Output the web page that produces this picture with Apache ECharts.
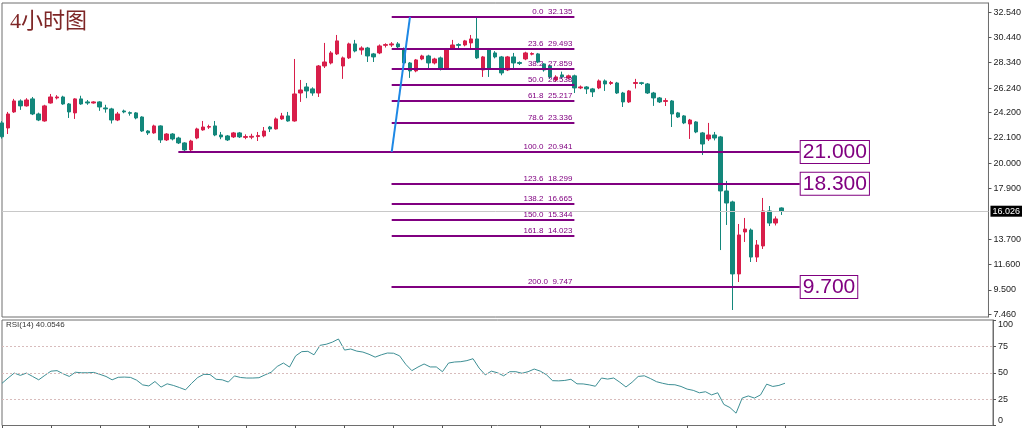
<!DOCTYPE html>
<html>
<head>
<meta charset="utf-8">
<script src="https://cdn.jsdelivr.net/npm/echarts@6/dist/echarts.min.js"></script>
<style>
html,body{margin:0;padding:0;background:#fff;}
#chart{width:1024px;height:428px;}
</style>
</head>
<body>
<div id="chart"></div>
<script>
// ---- data ----
const slotCount = 163; // visible bar slots on the time axis (last 34 empty)
const opens  = [23.35,22.93,24.26,25.17,24.76,25.34,24.09,23.51,25.00,25.42,25.50,24.92,24.18,25.34,25.09,25.00,25.09,24.59,24.51,23.59,24.34,24.20,24.18,23.84,22.68,22.52,23.10,21.94,22.43,22.10,21.69,21.11,22.10,22.77,23.00,23.10,22.35,22.27,22.19,22.52,22.15,22.17,22.22,22.27,23.01,22.85,23.68,23.93,23.51,25.83,26.33,26.17,25.83,28.07,28.32,29.07,28.07,28.74,29.90,29.40,29.56,29.07,29.15,29.78,29.81,29.90,29.48,28.32,27.66,28.65,28.90,28.32,28.74,27.82,29.48,29.84,29.81,29.98,30.31,27.74,29.48,29.15,28.82,27.74,28.82,28.36,28.65,29.05,29.07,28.24,28.07,26.91,27.33,27.08,27.25,26.25,26.33,26.17,26.25,26.83,26.62,26.66,25.83,25.09,26.62,26.68,26.58,25.83,25.42,25.13,25.17,24.18,23.93,23.26,23.43,22.52,22.02,22.35,22.19,17.71,16.80,10.83,14.31,14.47,12.23,13.15,16.05,15.05,16.30];
const closes = [22.20,24.09,25.17,24.76,25.25,24.09,23.59,24.76,25.50,25.50,24.92,24.26,25.34,24.92,25.00,25.09,24.67,24.51,23.59,24.09,24.26,24.15,23.76,22.68,22.52,23.10,21.94,22.43,22.02,21.69,21.11,21.85,22.85,23.01,23.05,22.35,22.19,21.94,22.52,22.19,22.22,22.24,22.30,22.68,22.85,23.68,23.93,23.51,25.75,26.08,26.00,25.83,28.07,28.40,29.15,30.15,28.74,29.90,29.31,29.56,28.90,28.82,29.73,29.84,29.90,29.65,28.32,27.66,28.57,28.90,28.32,28.65,27.82,29.48,29.81,29.78,30.15,30.31,28.74,28.82,27.82,28.82,27.49,28.82,28.32,28.28,29.15,29.10,28.40,27.74,27.16,27.16,27.16,27.25,26.25,26.33,26.17,25.92,26.83,26.58,26.70,25.83,25.09,26.00,26.70,26.62,25.83,25.42,25.09,25.20,24.09,23.84,23.35,23.59,22.60,21.60,22.35,22.10,17.71,16.71,10.83,14.06,14.55,12.23,13.23,16.05,15.05,15.39,16.026];
const lows   = [22.05,22.43,24.18,24.43,24.70,24.00,23.50,23.45,24.95,25.30,24.85,23.76,23.68,24.85,24.85,24.95,24.35,24.20,23.30,23.50,24.15,23.95,23.65,22.60,22.35,22.45,21.69,21.85,21.90,21.60,20.941,20.95,22.00,22.70,22.85,22.25,22.00,21.85,22.10,22.10,22.00,22.00,21.85,22.15,22.60,22.80,23.60,23.45,23.45,25.09,25.40,25.60,25.50,27.90,28.20,28.98,27.00,28.65,29.20,29.00,28.40,28.40,29.05,29.60,29.65,29.50,28.20,27.08,27.55,28.55,27.80,28.20,27.70,27.74,29.40,29.40,29.70,29.40,28.65,27.16,27.16,28.70,27.30,27.65,27.90,28.15,28.55,28.95,28.30,27.60,27.00,26.80,27.00,26.95,25.83,26.15,25.75,25.50,26.15,26.00,26.50,25.75,24.67,25.00,26.20,26.50,25.75,24.76,25.00,24.75,23.01,23.76,23.25,22.02,22.50,20.69,21.85,21.90,12.81,14.89,7.84,10.16,13.48,11.82,11.82,12.90,14.80,14.85,15.72];
const highs  = [23.50,24.26,25.34,25.30,25.40,25.50,24.20,24.85,25.75,25.65,25.60,25.00,25.40,25.60,25.25,25.15,25.15,24.85,24.60,24.26,24.45,24.30,24.25,23.90,22.75,23.20,23.15,22.50,22.50,22.20,21.75,21.95,22.95,23.51,23.20,23.51,22.60,22.35,22.60,22.60,22.40,22.45,22.60,23.01,23.10,23.80,24.18,24.26,28.65,26.91,26.66,26.30,28.15,29.98,29.30,30.64,28.85,30.00,30.23,29.70,29.65,29.15,29.85,29.95,30.05,30.05,29.60,28.40,28.65,29.00,29.00,28.75,28.85,29.56,30.23,29.95,30.23,30.64,32.135,28.90,29.56,29.30,28.90,28.90,29.15,28.45,29.25,29.20,29.15,28.30,28.15,27.30,27.60,27.35,27.35,26.45,26.40,26.25,26.95,26.95,26.83,26.75,25.92,26.08,27.00,26.75,26.66,25.92,25.50,25.40,25.25,24.26,24.00,23.68,23.50,22.60,23.35,22.60,22.27,18.54,16.90,14.97,15.47,14.60,13.64,17.13,16.46,15.60,16.35];
const rsiValues = [40,45,49.7,47.5,49.7,46.5,43.3,47.5,51.5,52,49,46.5,50.5,50,50,50.3,48.5,46.5,43.3,45.7,45.9,45.6,43,38.5,37.5,41.7,36.4,39.5,38,36,33.8,40,45.5,48.5,48.3,43.8,43.3,41.2,47,45.5,45,45,45.3,48,50.5,56,59.2,55.4,66,70,70.3,67,76,77,79,82,71.5,72.5,70.5,69.6,67.5,64.8,67,68.7,68.5,66,58,52,55.4,58.3,55.5,55.5,51,59.2,60.2,60.5,61.5,63.3,54.4,48,51.5,50,47.1,51,51,49.5,51,53.5,51.5,48.1,42.5,42.3,42.7,43.8,39.5,39.4,38.5,37.2,45,44,45,41,36.5,41,46.5,47.1,44.5,41.5,40,38.8,38.6,37,34.5,33.3,31,32,29,31,20,17,11.7,26,28,26,29,39.2,37,38,40.05];
const rsiLevels = [75, 50, 25];
const rsiTicks = [0, 25, 50, 75, 100];
const priceTicks = [32.54, 30.44, 28.34, 26.24, 24.2, 22.1, 20.0, 17.9, 13.7, 11.6, 9.5, 7.46];
const lastPrice = 16.026;
const fibRatios = ['0.0','23.6','38.2','50.0','61.8','78.6','100.0','123.6','138.2','150.0','161.8','200.0'];
const fibPrices = [32.135, 29.493, 27.859, 26.538, 25.217, 23.336, 20.941, 18.299, 16.665, 15.344, 14.023, 9.747];
const fibStartBar = 64, fibLabelBar = 94, swingLowBar = 29;
const targetPrices = [20.941, 18.299, 9.747];
const targetLabels = ['21.000', '18.300', '9.700'];
const targetEndBar = 131;
const timeTickEvery = 8;

// ---- build ----
const categories = Array.from({length: slotCount}, (_, i) => String(i));
const candleData = opens.map((o, i) => [o, closes[i], lows[i], highs[i]]);
const lastBar = opens.length - 1;
const UP = '#d81e4a', DOWN = '#13877b', FIB = '#800080';

const fibLines = fibPrices.map((p, k) => [
  {coord: [fibRatios[k] === '100.0' ? swingLowBar : fibStartBar, p],
   label: {show: true, position: 'insideEndTop', formatter: fibRatios[k] + '  ' + p.toFixed(3),
           color: FIB, fontSize: 8, fontFamily: 'Liberation Sans', distance: [2, 1]}},
  {coord: [fibLabelBar, p]}
]);
const targetLines = targetPrices.map((p, k) => [
  {coord: [targetPrices[k] === 20.941 ? swingLowBar : fibStartBar, p],
   label: {show: true, position: 'end', formatter: targetLabels[k], color: FIB, fontSize: 21,
           fontFamily: 'Liberation Sans', backgroundColor: '#fff', borderColor: FIB, borderWidth: 1,
           padding: [1, 2, 0, 2], distance: 1}},
  {coord: [targetEndBar, p]}
]);
const trendLine = [[{coord: [fibStartBar, fibPrices[6]]}, {coord: [fibStartBar + 3, fibPrices[0]]}]];

const chart = echarts.init(document.getElementById('chart'), null, {renderer: 'canvas'});
chart.setOption({
  animation: false,
  backgroundColor: '#fff',
  grid: [
    {left: 2, right: 31, top: 3, height: 314, show: true, borderColor: '#6e6e6e', borderWidth: 1},
    {left: 2, right: 31, top: 320, height: 105.5, show: true, borderColor: '#6e6e6e', borderWidth: 1}
  ],
  xAxis: [
    {type: 'category', gridIndex: 0, data: categories, boundaryGap: false,
     axisLine: {show: false}, axisTick: {show: false}, axisLabel: {show: false}, splitLine: {show: false}},
    {type: 'category', gridIndex: 1, data: categories, boundaryGap: false,
     axisLine: {show: false},
     axisTick: {show: true, interval: (idx) => idx % timeTickEvery === 0 && idx <= lastBar,
                length: 3, lineStyle: {color: '#555'}},
     axisLabel: {show: false}, splitLine: {show: false}}
  ],
  yAxis: [
    {type: 'value', gridIndex: 0, position: 'right', min: 7.26, max: 33.29, scale: true,
     splitLine: {show: false},
     axisLine: {show: true, lineStyle: {color: '#6e6e6e'}},
     axisTick: {show: true, length: 3, customValues: priceTicks, lineStyle: {color: '#555'}},
     axisLabel: {customValues: priceTicks, formatter: v => v.toFixed(3), fontSize: 9,
                 fontFamily: 'Liberation Sans', color: '#222', margin: 5}},
    {type: 'value', gridIndex: 1, position: 'right', min: 0, max: 100,
     splitLine: {show: false},
     axisLine: {show: true, lineStyle: {color: '#6e6e6e'}},
     axisTick: {show: true, length: 3, customValues: rsiTicks, lineStyle: {color: '#555'}},
     axisLabel: {customValues: rsiTicks, fontSize: 9, fontFamily: 'Liberation Sans', color: '#222', margin: 5,
                 verticalAlignMaxLabel: 'top', verticalAlignMinLabel: 'bottom'}}
  ],
  series: [
    {type: 'candlestick', xAxisIndex: 0, yAxisIndex: 0, data: candleData, barWidth: 4,
     itemStyle: {color: UP, color0: DOWN, borderColor: UP, borderColor0: DOWN, borderWidth: 1},
     markLine: {symbol: 'none', silent: true, animation: false,
       data: [
         {yAxis: lastPrice, lineStyle: {color: '#c8c8c8', width: 1, type: 'solid'},
          label: {show: true, position: 'end', formatter: lastPrice.toFixed(3), color: '#fff',
                  backgroundColor: '#000', fontSize: 9, fontFamily: 'Liberation Sans',
                  padding: [1, 2], distance: 2}}
       ]}},
    {type: 'line', xAxisIndex: 0, yAxisIndex: 0, data: [], silent: true,
     markLine: {symbol: 'none', silent: true, animation: false, z: 3,
       lineStyle: {color: FIB, width: 2, type: 'solid'},
       data: fibLines.concat(targetLines)}},
    {type: 'line', xAxisIndex: 0, yAxisIndex: 0, data: [], silent: true,
     markLine: {symbol: 'none', silent: true, animation: false,
       lineStyle: {color: '#1e88e5', width: 2, type: 'solid'}, label: {show: false},
       data: trendLine}},
    {type: 'line', xAxisIndex: 1, yAxisIndex: 1, data: rsiValues, symbol: 'none',
     lineStyle: {color: '#3e8f95', width: 1}, itemStyle: {color: '#3e8f95'},
     markLine: {symbol: 'none', silent: true, animation: false,
       lineStyle: {color: '#d8bcbc', width: 1, type: [2, 2]}, label: {show: false},
       data: rsiLevels.map(v => ({yAxis: v}))}}
  ],
  graphic: [
    {type: 'text', left: 10, top: 11, style: {text: '4小时图', fontSize: 22, fill: '#7e2626',
      fontFamily: 'Liberation Serif, Noto Sans CJK SC'}},
    {type: 'text', left: 6, top: 321, style: {text: 'RSI(14) 40.0546', fontSize: 8, fill: '#333',
      fontFamily: 'Liberation Sans'}}
  ]
});
</script>
</body>
</html>
